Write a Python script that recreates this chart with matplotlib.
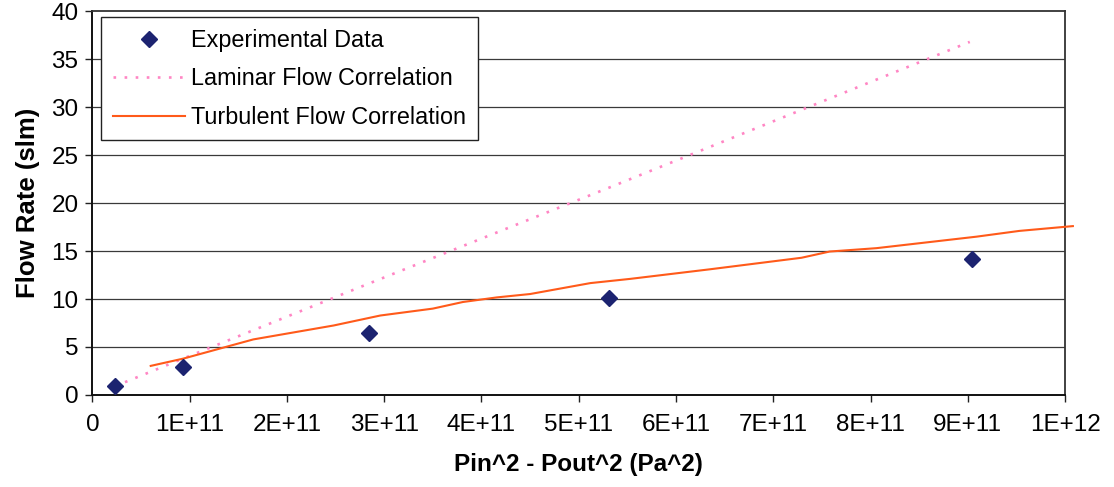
import numpy as np
import matplotlib
matplotlib.use('Agg')
import matplotlib.pyplot as plt

plt.rcParams['font.family'] = ['Liberation Sans', 'DejaVu Sans']

# experimental points
exp_x = [0.23e11, 0.935e11, 2.84e11, 5.31e11, 9.04e11]
exp_y = [0.9, 2.9, 6.5, 10.1, 14.2]

# laminar correlation (straight line through the data range)
lam_x = [0.23e11, 0.935e11, 2.84e11, 5.31e11, 9.02e11]
lam_y = [0.9, 3.8, 11.6, 21.6, 36.8]

# turbulent correlation
turb_x = [0.60e11, 0.935e11, 1.655e11, 2.48e11, 2.96e11, 3.50e11, 3.81e11, 4.16e11,
          4.50e11, 5.12e11, 5.53e11, 6.35e11, 7.29e11, 7.58e11, 8.06e11, 9.09e11,
          9.53e11, 1.008e12]
turb_y = [3.03, 3.79, 5.79, 7.24, 8.28, 9.0, 9.69, 10.17,
          10.52, 11.66, 12.1, 13.1, 14.3, 14.95, 15.3, 16.5,
          17.1, 17.6]

x_ticks = [0, 1e11, 2e11, 3e11, 4e11, 5e11, 6e11, 7e11, 8e11, 9e11, 1e12]
x_tick_labels = ['0', '1E+11', '2E+11', '3E+11', '4E+11', '5E+11', '6E+11',
                 '7E+11', '8E+11', '9E+11', '1E+12']
y_ticks = [0, 5, 10, 15, 20, 25, 30, 35, 40]

fig = plt.figure(figsize=(11.14, 4.87), dpi=100)
ax = fig.add_axes([0.0829, 0.189, 0.8732, 0.788])

for yv in y_ticks[1:-1]:
    ax.axhline(yv, color='#3a3a3a', lw=0.9, zorder=1)

ax.plot(exp_x, exp_y, linestyle='none', marker='D', markersize=8.5,
        color='#1c2370', label='Experimental Data', zorder=4)
ax.plot(lam_x, lam_y, linestyle=(0, (1, 3.2)), lw=1.9, color='#ff86c4',
        label='Laminar Flow Correlation', zorder=3)
ax.plot(turb_x, turb_y, linestyle='-', lw=1.5, color='#ff5a1a',
        label='Turbulent Flow Correlation', zorder=3, clip_on=False)

ax.set_xlim(0, 1e12)
ax.set_ylim(0, 40)
ax.set_xticks(x_ticks)
ax.set_xticklabels(x_tick_labels)
ax.set_yticks(y_ticks)
ax.tick_params(axis='both', direction='out', length=5, width=1, labelsize=17.5, color='#222222')
ax.tick_params(axis='x', pad=9)
ax.tick_params(axis='y', pad=5)

for side in ['left', 'bottom']:
    ax.spines[side].set_linewidth(1.4)
    ax.spines[side].set_color('#111111')
for side in ['top', 'right']:
    ax.spines[side].set_linewidth(1.3)
    ax.spines[side].set_color('#333333')

ax.set_xlabel('Pin^2 - Pout^2 (Pa^2)', fontsize=17.5, fontweight='bold', labelpad=12)
ax.set_ylabel('Flow Rate (slm)', fontsize=18.5, fontweight='bold', labelpad=8)

leg = ax.legend(loc='upper left', bbox_to_anchor=(0.009, 0.984), borderaxespad=0,
                fontsize=16.8, handlelength=3.1, handletextpad=0.25, labelspacing=0.66,
                borderpad=0.5, fancybox=False, framealpha=1, edgecolor='#222222')
leg.get_frame().set_linewidth(1.0)

fig.savefig('out.png', dpi=100)
